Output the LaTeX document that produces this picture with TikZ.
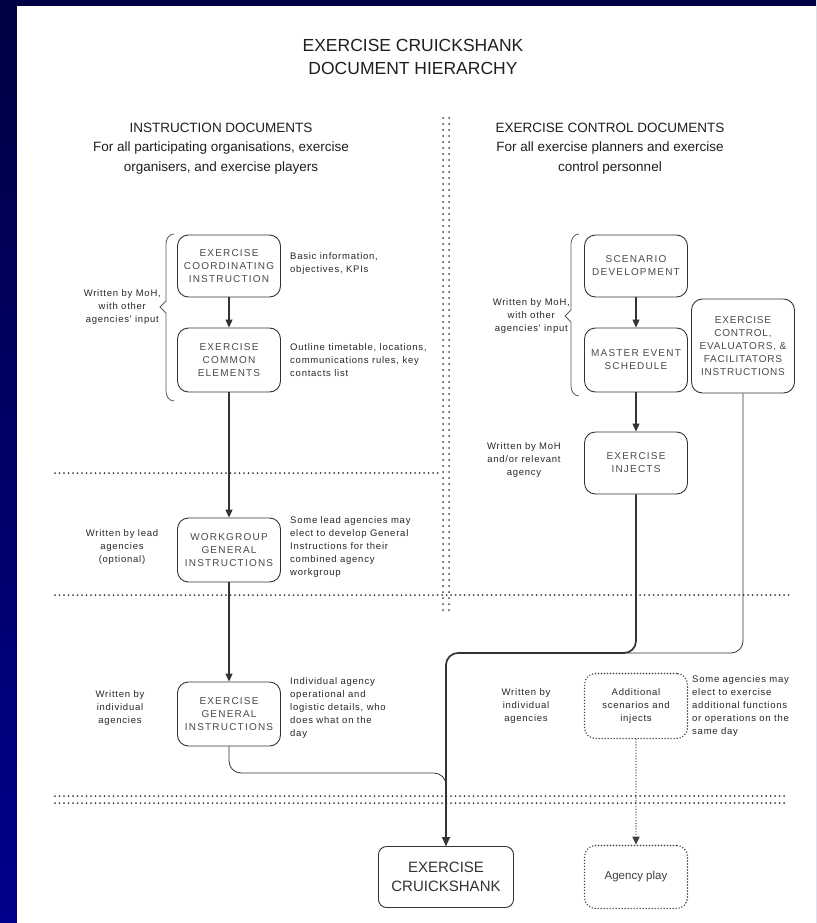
\documentclass[tikz,border=0pt]{standalone}
\usepackage{fontspec}
\setmainfont{Liberation Sans}
\newfontfamily\boxfont[LetterSpace=12]{Liberation Sans}
\newfontfamily\descfont[LetterSpace=8]{Liberation Sans}
\usetikzlibrary{arrows.meta}
\definecolor{navyA}{HTML}{000044}
\definecolor{navyB}{HTML}{00008C}
\definecolor{linec}{HTML}{333333}
\definecolor{boxtext}{HTML}{4A4A4A}
\definecolor{desctext}{HTML}{262626}
\definecolor{dotc}{HTML}{404040}
\tikzset{
  docbox/.style={draw=linec, line width=0.9pt, rounded corners=11pt, minimum width=103pt,
    minimum height=62pt, align=center, inner sep=1pt, text=boxtext,
    font=\boxfont\fontsize{10}{13}\selectfont},
  dotbox/.style={docbox, draw=dotc, line width=1.6pt, line cap=round, dash pattern=on 0pt off 3pt},
  desc/.style={align=left, anchor=west, inner sep=0pt, text=desctext,
    font=\descfont\fontsize{9.5}{13}\selectfont},
  lab/.style={align=center, inner sep=0pt, text=desctext,
    font=\descfont\fontsize{9.5}{13}\selectfont},
  head/.style={align=center, inner sep=0pt, text=black!88,
    font=\fontsize{13.5}{19.5}\selectfont},
  titlestyle/.style={align=center, inner sep=0pt, text=black!88,
    font=\fontsize{17.5}{23}\selectfont},
  arr/.style={draw=linec, line width=1.1pt, -{Triangle[length=8pt,width=7pt]}},
  thickarr/.style={draw=linec, line width=1.7pt, rounded corners=12pt, -{Triangle[length=9pt,width=8pt]}},
  thinline/.style={draw=linec, line width=0.8pt, rounded corners=12pt},
  dotline/.style={draw=dotc, line width=2pt, line cap=round, dash pattern=on 0pt off 4.5pt},
  vdotline/.style={draw=dotc, line width=2pt, line cap=round, dash pattern=on 0pt off 6pt},
  dotarr/.style={draw=dotc, line width=1.4pt, line cap=round, dash pattern=on 0pt off 2.8pt,
    -{Triangle[length=8pt,width=7pt]}},
  bracestyle/.style={draw=linec!80, line width=0.8pt}
}
\begin{document}
\begin{tikzpicture}[x=1pt,y=-1pt]
\useasboundingbox (0,0) rectangle (816,923);
\shade[top color=navyA, bottom color=navyB] (0,0) rectangle (816,923);
\fill[white] (17,6) rectangle (816,923);

% titles
\node[titlestyle] (title) at (413,57) {EXERCISE CRUICKSHANK\\DOCUMENT HIERARCHY};
\node[head] (hl) at (221,128) {INSTRUCTION DOCUMENTS};
\node[head] (hl2) at (221,158) {For all participating organisations, exercise\\organisers, and exercise players};
\node[head] (hr) at (610,128) {EXERCISE CONTROL DOCUMENTS};
\node[head] (hr2) at (610,158) {For all exercise planners and exercise\\control personnel};

% separators
\draw[vdotline] (443,118) -- (443,612);
\draw[vdotline] (449,118) -- (449,612);
\draw[dotline] (55,473) -- (438,473);
\draw[dotline] (55,595) -- (790,595);
\draw[dotline] (55,796) -- (788,796);
\draw[dotline] (55,803) -- (788,803);

% left column
\node[docbox] (eci) at (229,266) {EXERCISE\\COORDINATING\\INSTRUCTION};
\node[docbox, minimum height=64pt] (ece) at (229,360) {EXERCISE\\COMMON\\ELEMENTS};
\node[docbox, minimum height=64pt] (wgi) at (229,550) {WORKGROUP\\GENERAL\\INSTRUCTIONS};
\node[docbox, minimum height=64pt] (egi) at (229,714) {EXERCISE\\GENERAL\\INSTRUCTIONS};

\node[desc] (d1) at (290,264) {Basic information,\\objectives, KPIs};
\node[desc] (d2) at (290,360) {Outline timetable, locations,\\communications rules, key\\contacts list};
\node[desc] (d3) at (290,547) {Some lead agencies may\\elect to develop General\\Instructions for their\\combined agency\\workgroup};
\node[desc] (d4) at (290,708) {Individual agency\\operational and\\logistic details, who\\does what on the\\day};

\node[lab, anchor=east] (l1) at (161,307) {Written by MoH,\\with other\\agencies' input};
\node[lab] (l2) at (122,547) {Written by lead\\agencies\\(optional)};
\node[lab] (l3) at (120,708) {Written by\\individual\\agencies};

\draw[bracestyle] (174,234) to[out=180,in=90] (166,244) -- (166,301) -- (160,307) -- (166,313)
  -- (166,391) to[out=-90,in=180] (174,401);

% right column
\node[docbox] (sd) at (636,266) {SCENARIO\\DEVELOPMENT};
\node[docbox, minimum height=64pt] (mes) at (636,360) {MASTER EVENT\\SCHEDULE};
\node[docbox, minimum height=94pt, inner sep=0pt, font=\descfont\fontsize{10}{13}\selectfont] (ecefi) at (743,346) {EXERCISE\\CONTROL,\\EVALUATORS, \&\\FACILITATORS\\INSTRUCTIONS};
\node[docbox] (ei) at (636,463) {EXERCISE\\INJECTS};
\node[dotbox, minimum height=65pt, font=\descfont\fontsize{9.5}{13}\selectfont, text=desctext] (ad) at (636,706) {Additional\\scenarios and\\injects};

\node[lab, anchor=east] (l4) at (570,316) {Written by MoH,\\with other\\agencies' input};
\node[lab] (l5) at (524,460) {Written by MoH\\and/or relevant\\agency};
\node[lab] (l6) at (526,706) {Written by\\individual\\agencies};
\node[desc] (d5) at (692,706) {Some agencies may\\elect to exercise\\additional functions\\or operations on the\\same day};

\draw[bracestyle] (579,234) to[out=180,in=90] (571,244) -- (571,310) -- (565,316) -- (571,322)
  -- (571,386) to[out=-90,in=180] (579,396);

% bottom
\node[docbox, minimum width=135pt, minimum height=61pt, font=\fontsize{15}{19}\selectfont, text=black!80, rounded corners=8pt] (ec) at (446,877) {EXERCISE\\CRUICKSHANK};
\node[dotbox, minimum height=63pt, font=\fontsize{11.5}{14}\selectfont, text=black!75] (ap) at (636,877) {Agency play};

% connectors
\draw[arr] (eci) -- (ece);
\draw[arr] (ece) -- (wgi);
\draw[arr] (wgi) -- (egi);
\draw[arr] (sd) -- (mes);
\draw[arr] (mes) -- (ei);
\coordinate (cj1) at (446,653);
\coordinate (cj2) at (600,653);
\coordinate (cj3) at (446,773);
\draw[thinline] (ecefi.south) |- (cj2);
\draw[thinline] (egi.south) |- (cj3) -- (ec.north);
\draw[thickarr] (ei.south) |- (cj1) -- (ec.north);
\draw[dotarr] (ad) -- (ap);
\end{tikzpicture}
\end{document}
